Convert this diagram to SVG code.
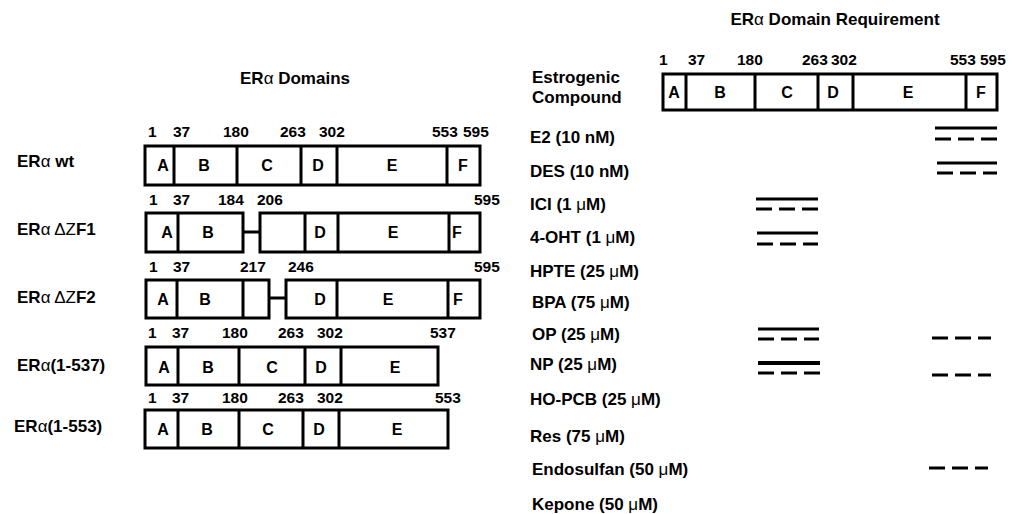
<svg xmlns="http://www.w3.org/2000/svg" width="1016" height="514" viewBox="0 0 1016 514">
<style>
text{font-family:"Liberation Sans",Arial,sans-serif;font-weight:bold;fill:#000}
.t{font-size:17px}
.n{font-size:15.5px}
.l{font-size:16px;text-anchor:middle}
.g{font-weight:normal}
.box{fill:#fff;stroke:#000;stroke-width:3}
.dv{stroke:#000;stroke-width:3}
.sl{stroke:#000;stroke-width:3}
.dl{stroke:#000;stroke-width:3;stroke-dasharray:16 7}
</style>
<rect width="1016" height="514" fill="#fff"/>
<text class="t" x="295" y="84" text-anchor="middle">ER<tspan class="g">α</tspan> Domains</text>
<text class="t" x="835" y="25" text-anchor="middle">ER<tspan class="g">α</tspan> Domain Requirement</text>

<g id="wt">
<text class="t" x="17" y="167">ER<tspan class="g">α</tspan> wt</text>
<text class="n" y="137"><tspan x="148">1</tspan><tspan x="173">37</tspan><tspan x="223">180</tspan><tspan x="280">263</tspan><tspan x="319">302</tspan><tspan x="432">553</tspan><tspan x="463">595</tspan></text>
<rect class="box" x="145" y="146" width="335" height="39"/>
<path class="dv" d="M174 146V185M237 146V185M301 146V185M337 146V185M447 146V185"/>
<text class="l" y="171"><tspan x="163">A</tspan><tspan x="204">B</tspan><tspan x="267">C</tspan><tspan x="318">D</tspan><tspan x="392">E</tspan><tspan x="463">F</tspan></text>
</g>

<g id="dzf1">
<text class="t" x="17" y="235">ER<tspan class="g">α ΔZ</tspan>F1</text>
<text class="n" y="205"><tspan x="149">1</tspan><tspan x="173">37</tspan><tspan x="218">184</tspan><tspan x="257">206</tspan><tspan x="474">595</tspan></text>
<rect class="box" x="146" y="213" width="97" height="39"/>
<rect class="box" x="260" y="213" width="220" height="39"/>
<path class="dv" d="M178 213V252M305 213V252M338 213V252M449 213V252"/>
<text class="l" y="238"><tspan x="167">A</tspan><tspan x="208">B</tspan><tspan x="320">D</tspan><tspan x="393">E</tspan><tspan x="457">F</tspan></text>
</g>

<g id="dzf2">
<text class="t" x="17" y="303">ER<tspan class="g">α ΔZ</tspan>F2</text>
<text class="n" y="272"><tspan x="149">1</tspan><tspan x="173">37</tspan><tspan x="240">217</tspan><tspan x="288">246</tspan><tspan x="474">595</tspan></text>
<rect class="box" x="146" y="280" width="123" height="38"/>
<rect class="box" x="286" y="280" width="194" height="38"/>
<path class="dv" d="M177 280V318M243 280V318M337 280V318M448 280V318"/>
<text class="l" y="305"><tspan x="163">A</tspan><tspan x="205">B</tspan><tspan x="320">D</tspan><tspan x="388">E</tspan><tspan x="458">F</tspan></text>
</g>

<g id="er537">
<text class="t" x="17" y="371">ER<tspan class="g">α</tspan>(1-537)</text>
<text class="n" y="338"><tspan x="148">1</tspan><tspan x="172">37</tspan><tspan x="222">180</tspan><tspan x="278">263</tspan><tspan x="317">302</tspan><tspan x="430">537</tspan></text>
<rect class="box" x="146" y="347" width="292" height="38"/>
<path class="dv" d="M178 347V385M239 347V385M305 347V385M341 347V385"/>
<text class="l" y="373"><tspan x="164">A</tspan><tspan x="208">B</tspan><tspan x="272">C</tspan><tspan x="321">D</tspan><tspan x="395">E</tspan></text>
</g>

<g id="er553">
<text class="t" x="14" y="432">ER<tspan class="g">α</tspan>(1-553)</text>
<text class="n" y="403"><tspan x="148">1</tspan><tspan x="172">37</tspan><tspan x="222">180</tspan><tspan x="278">263</tspan><tspan x="317">302</tspan><tspan x="435">553</tspan></text>
<rect class="box" x="145" y="410" width="303" height="38"/>
<path class="dv" d="M178 410V448M239 410V448M303 410V448M339 410V448"/>
<text class="l" y="435"><tspan x="163">A</tspan><tspan x="207">B</tspan><tspan x="268">C</tspan><tspan x="319">D</tspan><tspan x="397">E</tspan></text>
</g>

<g id="connectors">
<path class="sl" d="M243 232H260M269 298H286"/>
</g>

<g id="ref">
<text class="t" x="532" y="83">Estrogenic</text>
<text class="t" x="532" y="103">Compound</text>
<text class="n" y="65"><tspan x="659">1</tspan><tspan x="688">37</tspan><tspan x="737">180</tspan><tspan x="802">263</tspan><tspan x="831">302</tspan><tspan x="950">553</tspan><tspan x="980">595</tspan></text>
<rect class="box" x="663" y="74" width="334" height="36"/>
<path class="dv" d="M686 74V110M755 74V110M818 74V110M853 74V110M966 74V110"/>
<text class="l" y="98"><tspan x="674">A</tspan><tspan x="720">B</tspan><tspan x="787">C</tspan><tspan x="833">D</tspan><tspan x="908">E</tspan><tspan x="981">F</tspan></text>
</g>

<g id="compounds">
<text class="t" x="530" y="143">E2 (10 nM)</text>
<text class="t" x="530" y="177">DES (10 nM)</text>
<text class="t" x="530" y="210">ICI (1 <tspan class="g">μ</tspan>M)</text>
<text class="t" x="530" y="243">4-OHT (1 <tspan class="g">μ</tspan>M)</text>
<text class="t" x="530" y="277">HPTE (25 <tspan class="g">μ</tspan>M)</text>
<text class="t" x="532" y="308">BPA (75 <tspan class="g">μ</tspan>M)</text>
<text class="t" x="532" y="340">OP (25 <tspan class="g">μ</tspan>M)</text>
<text class="t" x="530" y="370">NP (25 <tspan class="g">μ</tspan>M)</text>
<text class="t" x="530" y="405">HO-PCB (25 <tspan class="g">μ</tspan>M)</text>
<text class="t" x="530" y="442">Res (75 <tspan class="g">μ</tspan>M)</text>
<text class="t" x="532" y="475">Endosulfan (50 <tspan class="g">μ</tspan>M)</text>
<text class="t" x="532" y="510">Kepone (50 <tspan class="g">μ</tspan>M)</text>
</g>

<g id="marks">
<path class="sl" d="M935 128H997M937 163H997M756 199H818M757 233H818M758 329H819"/>
<path class="sl" style="stroke-width:4" d="M758 363H820"/>
<path class="dl" d="M935 139H997M937 173H997M756 209H818M757 244H818M758 339H819M758 373H820M932 338H991M932 375H991M929 468H988"/>
</g>
</svg>
